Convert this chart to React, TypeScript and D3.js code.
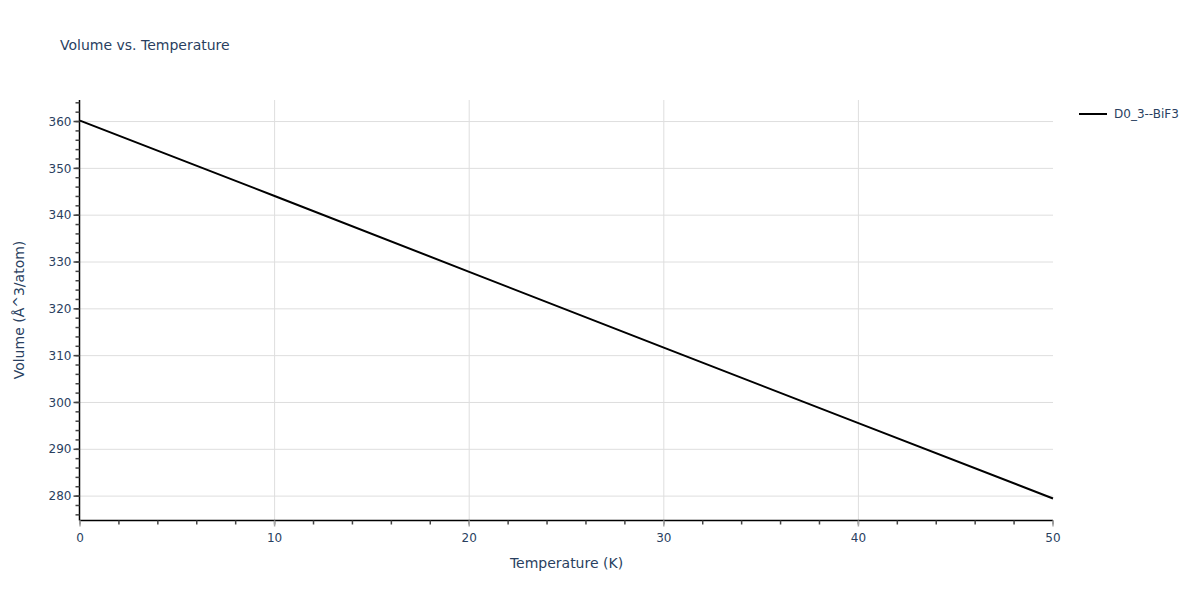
import React from "react";
import * as d3 from "d3";

const temperatures = [0, 10, 20, 30, 40, 50];
const volumes = [360.2, 344.1, 327.9, 311.7, 295.6, 279.5];
const xTicks = [0, 10, 20, 30, 40, 50];
const yTicks = [280, 290, 300, 310, 320, 330, 340, 350, 360];
const seriesName = "D0_3--BiF3";
const title = "Volume vs. Temperature";
const xTitle = "Temperature (K)";
const yTitle = "Volume (Å^3/atom)";

const W = 1200;
const H = 600;
const M = { left: 80, right: 147, top: 100, bottom: 80 };
const FONT = '"DejaVu Sans", verdana, arial, sans-serif';
const TXT = "#2a3f5f";

export default function App() {
  const x = d3.scaleLinear().domain([0, 50]).range([M.left, W - M.right]);
  const y = d3.scaleLinear().domain([274.9, 364.6]).range([H - M.bottom, M.top]);
  const line = d3
    .line<number>()
    .x((_, i) => x(temperatures[i]))
    .y((v) => y(v));
  const xMinor = d3.range(0, 50.001, 2);
  const yMinor = d3.range(276, 364.6, 2);
  const x0 = M.left - 0.5;
  const yb = H - M.bottom + 0.5;

  return (
    <svg width={W} height={H} style={{ position: "absolute", left: 0, top: 0, background: "#fff" }}>
      <text x={60} y={50} fontFamily={FONT} fontSize={14} fill={TXT}>
        {title}
      </text>
      {/* grid */}
      {xTicks.slice(1, -1).map((t) => (
        <line key={"gx" + t} x1={x(t)} x2={x(t)} y1={M.top} y2={H - M.bottom} stroke="#dedede" strokeWidth={1} />
      ))}
      {yTicks.map((t) => (
        <line key={"gy" + t} x1={M.left} x2={W - M.right} y1={y(t)} y2={y(t)} stroke="#dedede" strokeWidth={1} />
      ))}
      {/* axes */}
      <line x1={x0} x2={x0} y1={M.top} y2={yb} stroke="#000" strokeWidth={1.5} />
      <line x1={x0} x2={W - M.right} y1={yb} y2={yb} stroke="#000" strokeWidth={1.5} />
      {yMinor.map((t) => (
        <line key={"my" + t} x1={x0 - 4} x2={x0} y1={y(t)} y2={y(t)} stroke="#444" strokeWidth={1.5} />
      ))}
      {yTicks.map((t) => (
        <g key={"ty" + t}>
          <line x1={x0 - 6} x2={x0} y1={y(t)} y2={y(t)} stroke="#444" strokeWidth={1.5} />
          <text x={x0 - 8} y={y(t)} dy="0.35em" textAnchor="end" fontFamily={FONT} fontSize={12} fill={TXT}>
            {t}
          </text>
        </g>
      ))}
      {xMinor.map((t) => (
        <line key={"mx" + t} x1={x(t)} x2={x(t)} y1={yb} y2={yb + 4} stroke="#444" strokeWidth={1.5} />
      ))}
      {xTicks.map((t) => (
        <g key={"tx" + t}>
          <line x1={x(t)} x2={x(t)} y1={yb} y2={yb + 6} stroke="#aaa" strokeWidth={1.5} />
          <text x={x(t)} y={yb + 21} textAnchor="middle" fontFamily={FONT} fontSize={12} fill={TXT}>
            {t}
          </text>
        </g>
      ))}
      <text x={(M.left + W - M.right) / 2} y={568} textAnchor="middle" fontFamily={FONT} fontSize={14} fill={TXT}>
        {xTitle}
      </text>
      <text
        transform={`translate(24,${(M.top + H - M.bottom) / 2}) rotate(-90)`}
        textAnchor="middle"
        fontFamily={FONT}
        fontSize={14}
        fill={TXT}
      >
        {yTitle}
      </text>
      {/* series */}
      <path d={line(volumes) || ""} fill="none" stroke="#000" strokeWidth={2} />
      {/* legend */}
      <line x1={1079} x2={1107} y1={114} y2={114} stroke="#000" strokeWidth={2} />
      <text x={1114} y={114} dy="0.35em" fontFamily={FONT} fontSize={12} fill={TXT}>
        {seriesName}
      </text>
    </svg>
  );
}
